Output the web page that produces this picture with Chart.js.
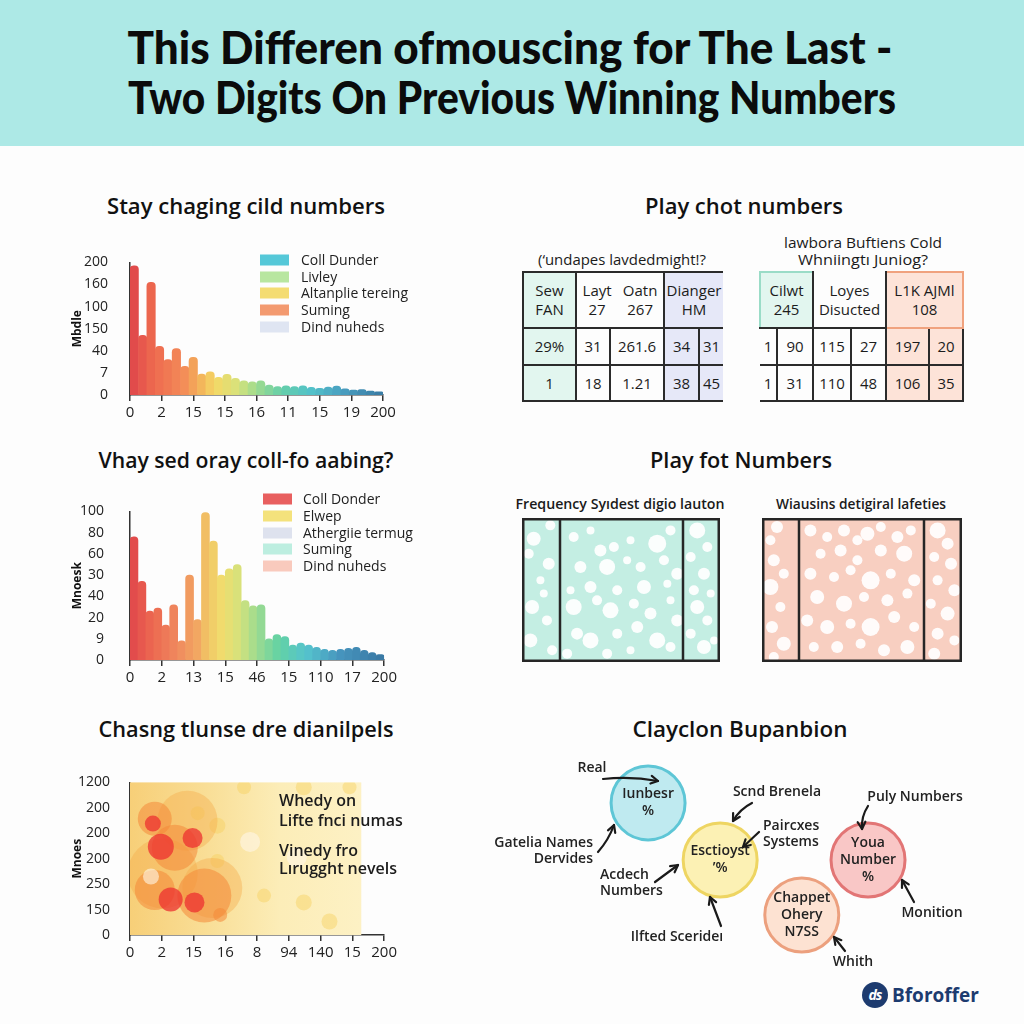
<!DOCTYPE html>
<html>
<head>
<meta charset="utf-8">
<script src="https://cdn.jsdelivr.net/npm/chart.js@4.4.1/dist/chart.umd.min.js"></script>
<style>
html, body { margin: 0; padding: 0; background: #fdfdfd; }
#page { position: relative; width: 1024px; height: 1024px; overflow: hidden; font-family: 'Open Sans', sans-serif; color: #1a1a1a; }
.band { position: absolute; left: 0; top: 0; width: 1024px; height: 146px; background: #ade9e6; }
.fit { position: absolute; white-space: nowrap; line-height: 1; }
.head { font-family: Lato, sans-serif; font-weight: 900; font-size: 46px; color: #0b0b0b; }
.ptitle { font-weight: 600; font-size: 22px; color: #111; }
.sub { font-weight: 600; font-size: 15px; color: #1a1a1a; }
canvas { position: absolute; }
.lg { position: absolute; font-size: 14px; line-height: 1; color: #222; white-space: nowrap; transform: translateY(-50%); }
.sw { position: absolute; width: 29px; height: 11px; transform: translateY(-50%); }
.note { position: absolute; font-size: 16px; font-weight: 600; color: #1c1c1c; white-space: nowrap; line-height: 1; transform: translateY(-50%); }
table.grid { position: absolute; border-collapse: collapse; table-layout: fixed; font-size: 15px; color: #1c1c1c; }
table.grid td { border: 2px solid #2b2b2b; text-align: center; padding: 0; line-height: 1.25; white-space: nowrap; overflow: hidden; }
table.grid tr.hd td { height: 54px; }
table.grid tr.r1 td { height: 35px; }
table.grid tr.r2 td { height: 34px; }
.mint { background: #e2f6ef; }
.lav { background: #e6e8f8; }
.peach { background: #fde3d8; }
.pair { display: flex; justify-content: space-around; }
.logo { position: absolute; left: 862px; top: 982px; width: 26px; height: 26px; border-radius: 50%; background: #1d3b6f; color: #fff; font: italic 700 14px 'Open Sans', sans-serif; text-align: center; line-height: 26px; letter-spacing: -1px; }
.brand { position: absolute; left: 892px; top: 995px; transform: translateY(-50%); font: 700 19px 'Open Sans', sans-serif; color: #1d3b6f; }
</style>
</head>
<body>
<div id="page">
  <div class="band"></div>
  <div class="fit head" data-cx="510" data-cy="47" data-w="765">This Differen ofmouscing for The Last -</div>
  <div class="fit head" data-cx="512" data-cy="97" data-w="768">Two Digits On Previous Winning Numbers</div>

  <div class="fit ptitle" data-cx="246" data-cy="205" data-w="278">Stay chaging cild numbers</div>
  <div class="fit ptitle" data-cx="246" data-cy="459" data-w="295">Vhay sed oray coll-fo aabing?</div>
  <div class="fit ptitle" data-cx="246" data-cy="728" data-w="295">Chasng tlunse dre dianilpels</div>
  <div class="fit ptitle" data-cx="744" data-cy="205" data-w="198">Play chot numbers</div>
  <div class="fit ptitle" data-cx="741" data-cy="459" data-w="182">Play fot Numbers</div>
  <div class="fit ptitle" data-cx="740" data-cy="728" data-w="215">Clayclon Bupanbion</div>

  <div class="fit sub" data-cx="620" data-cy="503" data-w="209">Frequency Syıdest digio lauton</div>
  <div class="fit sub" data-cx="861" data-cy="503" data-w="170">Wiausins detigiral lafeties</div>
  <div class="fit sub" style="font-weight:400" data-cx="622" data-cy="259" data-w="168">(‘undapes lavdedmight!?</div>
  <div class="fit sub" style="font-weight:400" data-cx="863" data-cy="242" data-w="158">lawbora Buftiens Cold</div>
  <div class="fit sub" style="font-weight:400" data-cx="863" data-cy="259" data-w="130">Whniingtı Juniog?</div>

  <canvas id="c1" width="330" height="185" style="left:70px;top:240px"></canvas>
  <canvas id="c2" width="330" height="205" style="left:70px;top:485px"></canvas>
  <canvas id="c3" width="330" height="205" style="left:70px;top:762px"></canvas>
  <canvas id="c5a" width="198" height="144" style="left:522px;top:518px"></canvas>
  <canvas id="c5b" width="200" height="144" style="left:762px;top:518px"></canvas>
  <canvas id="c6" width="530" height="230" style="left:470px;top:750px"></canvas>

  <div id="legend1"></div>
  <div id="legend2"></div>

  <div class="note" style="left:279px;top:800px">Whedy on</div>
  <div class="note" style="left:279px;top:820px">Lifte fnci numas</div>
  <div class="note" style="left:279px;top:850px">Vinedy fro</div>
  <div class="note" style="left:279px;top:868px">Lırugght nevels</div>

  <table class="grid" id="tA" style="left:522px;top:271px;width:200px"></table>
  <table class="grid" id="tB" style="left:759px;top:271px;width:203px"></table>

  <div class="logo">ds</div>
  <div class="brand">Bforoffer</div>
</div>

<script>
// ---- data ----
const bins1 = [5.85, 2.7, 5.1, 2.2, 1.6, 2.1, 1.3, 1.7, 0.95, 1.05, 0.8, 0.94, 0.75, 0.64, 0.6,
               0.64, 0.45, 0.38, 0.42, 0.38, 0.42, 0.35, 0.3, 0.36, 0.4, 0.28, 0.22, 0.24, 0.18, 0.14];
const yTicks1 = ['0', '7', '40', '150', '100', '160', '200'];
const xTicks1 = ['0', '2', '15', '15', '16', '11', '15', '19', '200'];
const legend1Labels = ['Coll Dunder', 'Livley', 'Altanplie tereing', 'Suming', 'Dind nuheds'];

const bins2 = [5.8, 3.7, 2.3, 2.45, 1.65, 2.6, 0.9, 4.0, 1.9, 6.95, 5.6, 4.0, 4.3, 4.5, 2.8, 2.55,
               2.6, 1.0, 1.2, 1.1, 0.7, 0.8, 0.7, 0.6, 0.5, 0.45, 0.5, 0.55, 0.6, 0.45, 0.35, 0.25];
const yTicks2 = ['0', '9', '20', '40', '30', '60', '80', '100'];
const xTicks2 = ['0', '2', '13', '15', '46', '15', '110', '17', '200'];
const legend2Labels = ['Coll Donder', 'Elwep', 'Athergiie termug', 'Suming', 'Dind nuheds'];

const yTicks3 = ['0', '150', '250', '200', '200', '200', '1200'];
const xTicks3 = ['0', '2', '15', '16', '8', '94', '140', '15', '200'];
// [x, y, weight]
const hotSpots = [[1.28, 1.40, 12], [1.97, 3.81, 10], [0.97, 3.47, 13], [0.72, 4.38, 8], [2.03, 1.28, 10]];
const paleSpots = [[0.66, 2.30, 8], [5.25, 3.06, 10], [3.78, 3.66, 10]];
const warmSpots = [[2.34, 1.55, 27], [0.78, 1.77, 20], [0.78, 4.57, 17], [1.41, 3.43, 23], [2.84, 0.79, 7]];
const washSpots = [[1.03, 2.42, 35], [1.81, 4.49, 30], [2.59, 1.85, 30]];
const mildSpots = [[2.13, 4.79, 7], [2.75, 4.30, 8], [2.75, 2.91, 7], [3.59, 5.81, 7], [5.47, 5.81, 8],
                   [4.22, 1.55, 7], [5.47, 1.28, 8], [6.28, 0.53, 8], [6.91, 5.81, 7]];

const headA = [{ lines: ['Sew', 'FAN'], span: 1 },
               { pair: [['Layt', '27'], ['Oatn', '267']], span: 2 },
               { lines: ['Dianger', 'HM'], span: 2 }];
const rowsA = [['29%', '31', '261.6', '34', '31'],
               ['1', '18', '1.21', '38', '45']];
const headB = [{ lines: ['Cilwt', '245'], span: 2 },
               { lines: ['Loyes', 'Disucted'], span: 2 },
               { lines: ['L1K AJMl', '108'], span: 2 }];
const rowsB = [['1', '90', '115', '27', '197', '20'],
               ['1', '31', '110', '48', '106', '35']];

// [x, y, r] in box units 0-100
const dotsLeft = [[5.9, 85.6, 7], [3.4, 75.2, 5], [14.3, 94.9, 5], [13.5, 68.3, 6], [9.3, 56.7, 4], [5.1, 38.2, 7],
  [11.0, 47.5, 4], [12.6, 28.9, 5], [4.2, 15.0, 7], [15.2, 8.1, 5], [26.1, 86.8, 5], [34.6, 91.4, 4], [39.6, 77.5, 6],
  [46.4, 79.9, 5], [54.8, 84.5, 4], [68.3, 82.2, 9], [75.0, 91.4, 5], [29.5, 66.0, 6], [43.0, 66.0, 8], [53.1, 70.6, 4],
  [59.9, 66.0, 5], [71.7, 70.6, 5], [78.4, 61.3, 6], [24.5, 49.8, 4], [34.6, 52.1, 6], [48.1, 49.8, 5], [61.6, 52.1, 7],
  [73.4, 54.4, 4], [26.1, 38.2, 8], [37.9, 42.8, 5], [44.7, 35.9, 8], [56.5, 40.5, 5], [64.9, 33.6, 6], [75.0, 42.8, 4],
  [78.4, 28.9, 6], [27.8, 19.7, 6], [34.6, 15.0, 8], [48.1, 19.7, 5], [58.2, 24.3, 6], [68.3, 15.0, 8], [75.0, 10.4, 5],
  [22.8, 5.8, 5], [43.0, 5.8, 5], [54.8, 8.1, 4], [88.5, 91.4, 8], [93.6, 79.9, 5], [85.2, 72.9, 5], [91.9, 61.3, 6],
  [86.8, 49.8, 5], [95.3, 47.5, 4], [88.5, 38.2, 7], [93.6, 28.9, 5], [85.2, 19.7, 5], [91.9, 10.4, 7], [97.0, 15.0, 4]];
const dotsRight = [[7.5, 93.8, 6], [4.2, 84.5, 5], [5.9, 70.6, 6], [10.9, 61.3, 5], [4.2, 52.1, 8], [9.2, 38.2, 5],
  [5.0, 24.3, 6], [10.9, 12.7, 7], [5.9, 3.5, 5], [24.2, 91.4, 6], [32.6, 86.8, 5], [41.0, 91.4, 6], [47.7, 84.5, 5],
  [52.7, 89.1, 7], [59.4, 93.8, 5], [67.7, 86.8, 6], [74.4, 91.4, 5], [29.3, 75.2, 5], [39.3, 77.5, 6], [47.7, 70.6, 5],
  [59.4, 77.5, 6], [71.1, 75.2, 8], [24.2, 61.3, 6], [36.0, 59.0, 5], [44.3, 63.7, 5], [54.3, 56.7, 9], [64.4, 61.3, 5],
  [76.1, 56.7, 6], [27.6, 45.1, 7], [41.0, 40.5, 8], [51.0, 45.1, 5], [62.7, 42.8, 6], [72.7, 47.5, 5], [22.6, 28.9, 6],
  [32.6, 24.3, 7], [44.3, 26.6, 5], [54.3, 24.3, 9], [66.1, 31.3, 6], [76.1, 24.3, 5], [25.9, 10.4, 5], [37.6, 10.4, 6],
  [49.3, 12.7, 5], [61.0, 8.1, 6], [72.7, 10.4, 7], [87.8, 91.4, 8], [92.8, 82.2, 6], [86.1, 72.9, 5], [94.5, 68.3, 6],
  [87.8, 56.7, 5], [96.2, 49.8, 6], [84.4, 40.5, 5], [92.8, 33.6, 7], [87.8, 19.7, 6], [96.2, 15.0, 5], [86.1, 5.8, 6]];

const bubbleNames = [['Iunbesr', '%'], ['Esctioyst', '\u2019%'], ['Youa', 'Number', '%'], ['Chappet', 'Ohery', 'N7SS']];
const bubbleX = [33.6, 47.2, 75.1, 62.6];
const bubbleY = [77.0, 52.2, 52.2, 28.3];

// ---- styles / layout ----
Chart.defaults.font.family = "'Open Sans', sans-serif";
Chart.defaults.color = '#222';
Chart.defaults.animation = false;

const stops1 = [[0, '#e14b4b'], [0.08, '#ee6a4f'], [0.2, '#f38a58'], [0.27, '#f3b25a'], [0.33, '#f4d866'],
  [0.42, '#d9e27a'], [0.5, '#9fdb8f'], [0.6, '#67cfa8'], [0.72, '#52c2c9'], [0.85, '#4a9fc0'], [1, '#3b7ea6']];
const stops2 = [[0, '#e24c4c'], [0.07, '#ec6650'], [0.18, '#f08a5e'], [0.26, '#f2a862'], [0.3, '#f1c565'],
  [0.36, '#f1dd6e'], [0.43, '#d5e27c'], [0.5, '#9ddb90'], [0.59, '#63d2a4'], [0.7, '#55c3cd'], [0.84, '#4694bd'], [1, '#3a7aa5']];
const legend1Colors = ['#55c8d8', '#b8e6a0', '#f4dc72', '#f39a70', '#dfe5f2'];
const legend2Colors = ['#e85f5f', '#f4e27c', '#dee2ee', '#bdeee0', '#f9cabd'];

function hex(c) { return [1, 3, 5].map(i => parseInt(c.slice(i, i + 2), 16)); }
function blend(stops, t) {
  for (let i = 1; i < stops.length; i++) {
    if (t <= stops[i][0]) {
      const [t0, c0] = stops[i - 1], [t1, c1] = stops[i];
      const f = (t - t0) / (t1 - t0), a = hex(c0), b = hex(c1);
      return 'rgb(' + a.map((v, k) => Math.round(v + (b[k] - v) * f)).join(',') + ')';
    }
  }
  return stops[stops.length - 1][1];
}

// fit the titles to their width in the picture
document.querySelectorAll('.fit').forEach(el => {
  const w = el.getBoundingClientRect().width;
  const k = (+el.dataset.w) / w;
  el.style.left = el.dataset.cx + 'px';
  el.style.top = el.dataset.cy + 'px';
  el.style.transform = `translate(-50%,-50%) scaleX(${k})`;
});

function buildLegend(id, labels, colors, swX, textX, ys) {
  const box = document.getElementById(id);
  labels.forEach((l, i) => {
    box.insertAdjacentHTML('beforeend',
      `<div class="sw" style="left:${swX}px;top:${ys[i]}px;background:${colors[i]}"></div>` +
      `<div class="lg" style="left:${textX}px;top:${ys[i]}px">${l}</div>`);
  });
}
buildLegend('legend1', legend1Labels, legend1Colors, 260, 301, [260, 277, 293, 310, 327]);
buildLegend('legend2', legend2Labels, legend2Colors, 263, 303, [499, 516, 533, 549, 566]);

const axisColor = '#333';

function histogram(id, values, stops, yLabels, xLabels, yTitle, padRight, yPad) {
  const colors = values.map((v, i) => blend(stops, i / (values.length - 1)));
  return new Chart(document.getElementById(id), {
    type: 'bar',
    data: {
      labels: values.map((v, i) => i + 1),
      datasets: [{
        data: values,
        backgroundColor: colors,
        borderRadius: { topLeft: 4, topRight: 4 },
        borderSkipped: 'bottom',
        categoryPercentage: 1,
        barPercentage: 1
      }]
    },
    options: {
      responsive: false,
      layout: { padding: { top: 14, right: padRight, left: 0, bottom: 0 } },
      plugins: { legend: { display: false }, tooltip: { enabled: false } },
      scales: {
        x: { display: false },
        xl: {
          type: 'linear', position: 'bottom', min: 0, max: xLabels.length - 1, offset: false,
          ticks: { stepSize: 1, autoSkip: false, maxRotation: 0, padding: 3, font: { size: 15 }, callback: v => xLabels[v] },
          grid: { offset: false, drawOnChartArea: false, tickLength: 6, color: axisColor, lineWidth: 1.5 },
          border: { color: axisColor, width: 1.5 },
          afterFit: s => { s.height = 30; }
        },
        y: {
          min: 0, max: yLabels.length - 1,
          ticks: { stepSize: 1, padding: yPad, font: { size: 14 }, callback: v => yLabels[v] },
          grid: { display: false },
          border: { color: axisColor, width: 1.5 },
          title: { display: true, text: yTitle, font: { size: 12, weight: 'bold' }, color: '#111', padding: 0 },
          afterFit: s => { s.width = 60; }
        }
      }
    }
  });
}

histogram('c1', bins1, stops1, yTicks1, xTicks1, 'Mbdle', 17, 14);
histogram('c2', bins2, stops2, yTicks2, xTicks2, 'Mnoesk', 13, 18);

// heat panel
const heatEdge = 7.28;
const heatBg = {
  id: 'heatBg',
  beforeDatasetsDraw(chart) {
    const { ctx, chartArea: a, scales: { x } } = chart;
    const right = x.getPixelForValue(heatEdge);
    const g = ctx.createLinearGradient(a.left, 0, right, 0);
    g.addColorStop(0, '#f7cf78');
    g.addColorStop(0.35, '#f9df98');
    g.addColorStop(0.65, '#fcedb8');
    g.addColorStop(1, '#fdf1c4');
    ctx.save();
    ctx.fillStyle = g;
    ctx.fillRect(a.left, a.top, right - a.left, a.bottom - a.top);
    ctx.restore();
  }
};
const spot = arr => arr.map(p => ({ x: p[0], y: p[1], r: p[2] }));
new Chart(document.getElementById('c3'), {
  type: 'bubble',
  data: {
    datasets: [
      { data: spot(hotSpots), backgroundColor: 'rgba(236,48,48,0.75)', borderWidth: 0 },
      { data: spot(paleSpots), backgroundColor: 'rgba(255,246,232,0.6)', borderWidth: 0 },
      { data: spot(warmSpots), backgroundColor: 'rgba(244,136,56,0.55)', borderWidth: 0 },
      { data: spot(washSpots), backgroundColor: 'rgba(246,170,72,0.4)', borderWidth: 0 },
      { data: spot(mildSpots), backgroundColor: 'rgba(247,208,95,0.45)', borderWidth: 0 }
    ]
  },
  options: {
    responsive: false,
    clip: 0,
    layout: { autoPadding: false, padding: { top: 14, right: 12, left: 0, bottom: 0 } },
    plugins: { legend: { display: false }, tooltip: { enabled: false } },
    scales: {
      x: {
        type: 'linear', min: 0, max: xTicks3.length - 1,
        ticks: { stepSize: 1, autoSkip: false, maxRotation: 0, padding: 3, font: { size: 15 }, callback: v => xTicks3[v] },
        grid: { drawOnChartArea: false, tickLength: 6, color: axisColor, lineWidth: 1.5 },
        border: { color: axisColor, width: 1.5 },
        afterFit: s => { s.height = 32; }
      },
      y: {
        min: 0, max: yTicks3.length - 1,
        ticks: { stepSize: 1, padding: 12, font: { size: 14 }, callback: v => yTicks3[v] },
        grid: { display: false },
        border: { color: axisColor, width: 1.5 },
        title: { display: true, text: 'Mnoes', font: { size: 12, weight: 'bold' }, color: '#111', padding: 0 },
        afterFit: s => { s.width = 60; }
      }
    }
  },
  plugins: [heatBg]
});

// tables
function buildTable(id, widths, head, headCls, rows, cellCls) {
  let h = '<colgroup>' + widths.map(w => `<col style="width:${w}px">`).join('') + '</colgroup>';
  h += '<tr class="hd">' + head.map((c, i) => {
    const inner = c.pair
      ? '<div class="pair">' + c.pair.map(p => `<span>${p.join('<br>')}</span>`).join('') + '</div>'
      : c.lines.join('<br>');
    return `<td colspan="${c.span}" class="${headCls[i]}">${inner}</td>`;
  }).join('') + '</tr>';
  rows.forEach((r, k) => {
    h += `<tr class="r${k + 1}">` + r.map((v, i) => `<td class="${cellCls[i]}">${v}</td>`).join('') + '</tr>';
  });
  document.getElementById(id).innerHTML = h;
}
buildTable('tA', [53, 34, 54, 35, 24], headA, ['mint', '', 'lav'], rowsA, ['mint', '', '', 'lav', 'lav']);
buildTable('tB', [17, 36, 38, 35, 43, 34], headB, ['mint', '', 'peach'], rowsB, ['', '', '', '', 'peach', 'peach']);
// open edges of the two tables
document.querySelectorAll('#tA tr').forEach(tr => { tr.lastElementChild.style.borderRight = 'none'; });
document.querySelectorAll('#tB tr').forEach(tr => { tr.firstElementChild.style.borderLeft = 'none'; });
const tBh = document.querySelector('#tB tr.hd').children;
tBh[0].style.borderLeft = '2px solid #9adcc7';
tBh[0].style.borderTop = '2px solid #9adcc7';
tBh[1].style.borderTop = 'none';
tBh[2].style.border = '2px solid #f0a27e';
document.querySelector('#tA tr.hd').children[2].style.borderLeft = '2px solid #9aa6e0';

// dotted boxes
const panelBox = {
  id: 'panelBox',
  beforeDatasetsDraw(chart, args, opts) {
    const { ctx, chartArea: a } = chart;
    ctx.save();
    ctx.fillStyle = opts.fill;
    ctx.fillRect(a.left, a.top, a.right - a.left, a.bottom - a.top);
    ctx.restore();
  },
  afterDatasetsDraw(chart, args, opts) {
    const { ctx, chartArea: a, scales: { x } } = chart;
    ctx.save();
    ctx.strokeStyle = '#262626';
    ctx.lineWidth = 2.5;
    ctx.strokeRect(a.left + 1.25, a.top + 1.25, a.right - a.left - 2.5, a.bottom - a.top - 2.5);
    opts.dividers.forEach(d => {
      const px = Math.round(x.getPixelForValue(d));
      ctx.beginPath();
      ctx.moveTo(px, a.top);
      ctx.lineTo(px, a.bottom);
      ctx.stroke();
    });
    ctx.restore();
  }
};
function dotBox(id, dots, fill, dividers) {
  new Chart(document.getElementById(id), {
    type: 'bubble',
    data: { datasets: [{ data: spot(dots), backgroundColor: 'rgba(255,255,255,0.92)', borderWidth: 0 }] },
    options: {
      responsive: false,
      clip: 0,
      layout: { autoPadding: false, padding: 0 },
      plugins: { legend: { display: false }, tooltip: { enabled: false }, panelBox: { fill, dividers } },
      scales: { x: { display: false, min: 0, max: 100 }, y: { display: false, min: 0, max: 100 } }
    },
    plugins: [panelBox]
  });
}
dotBox('c5a', dotsLeft, '#c4eee3', [19.1, 81.5]);
dotBox('c5b', dotsRight, '#f8cfc1', [18.4, 81.1]);

// concept bubbles with callouts
const bubbleFill = ['#bfeaf0', '#fcf1b4', '#f9c7c6', '#fde2d2'];
const bubbleEdge = ['#5ec6d6', '#eed562', '#e27575', '#eca07e'];
const callouts = [
  { lines: ['Real'], x: 592, y: 768, align: 'center', from: [603, 779], to: [658, 781], bend: -4 },
  { lines: ['Gatelia Names', 'Dervides'], x: 593, y: 843, align: 'right', from: [598, 852], to: [614, 825], bend: 3 },
  { lines: ['Scnd Brenela'], x: 777, y: 792, align: 'center', from: [752, 803], to: [733, 821], bend: 4 },
  { lines: ['Paircxes', 'Systems'], x: 763, y: 826, align: 'left', from: [759, 832], to: [743, 847], bend: 0 },
  { lines: ['Acdech', 'Numbers'], x: 600, y: 875, align: 'left', from: [655, 882], to: [678, 865], bend: 0 },
  { lines: ['Ilfted Scerideı'], x: 677, y: 937, align: 'center', from: [721, 926], to: [710, 897], bend: 0 },
  { lines: ['Puly Numbers'], x: 915, y: 797, align: 'center', from: [868, 806], to: [862, 829], bend: 4 },
  { lines: ['Monition'], x: 932, y: 913, align: 'center', from: [914, 902], to: [902, 880], bend: 0 },
  { lines: ['Whith'], x: 853, y: 962, align: 'center', from: [845, 951], to: [834, 937], bend: 0 }
];
const ox = 470, oy = 750;
function arrow(ctx, f, t, bend) {
  const x1 = f[0] - ox, y1 = f[1] - oy, x2 = t[0] - ox, y2 = t[1] - oy;
  const mx = (x1 + x2) / 2, my = (y1 + y2) / 2;
  const len = Math.hypot(x2 - x1, y2 - y1);
  const nx = -(y2 - y1) / len, ny = (x2 - x1) / len;
  const cx = mx + nx * bend, cy = my + ny * bend;
  ctx.beginPath();
  ctx.moveTo(x1, y1);
  ctx.quadraticCurveTo(cx, cy, x2, y2);
  ctx.stroke();
  const ang = Math.atan2(y2 - cy, x2 - cx);
  ctx.beginPath();
  ctx.moveTo(x2 - 8 * Math.cos(ang - 0.5), y2 - 8 * Math.sin(ang - 0.5));
  ctx.lineTo(x2, y2);
  ctx.lineTo(x2 - 8 * Math.cos(ang + 0.5), y2 - 8 * Math.sin(ang + 0.5));
  ctx.stroke();
}
const conceptLabels = {
  id: 'conceptLabels',
  afterDatasetsDraw(chart) {
    const { ctx } = chart;
    const meta = chart.getDatasetMeta(0);
    ctx.save();
    ctx.fillStyle = '#222';
    ctx.font = "600 14px 'Open Sans', sans-serif";
    ctx.textAlign = 'center';
    ctx.textBaseline = 'middle';
    meta.data.forEach((pt, i) => {
      const lines = bubbleNames[i];
      const top = pt.y - (lines.length - 1) * 17 / 2;
      lines.forEach((l, k) => ctx.fillText(l, pt.x, top + k * 17));
    });
    ctx.strokeStyle = '#1a1a1a';
    ctx.lineWidth = 2.2;
    ctx.lineCap = 'round';
    ctx.lineJoin = 'round';
    callouts.forEach(c => {
      ctx.textAlign = c.align;
      c.lines.forEach((l, k) => ctx.fillText(l, c.x - ox, c.y - oy + k * 16));
      arrow(ctx, c.from, c.to, c.bend);
    });
    ctx.restore();
  }
};
new Chart(document.getElementById('c6'), {
  type: 'bubble',
  data: {
    datasets: [{
      data: bubbleX.map((x, i) => ({ x, y: bubbleY[i] })),
      radius: 37,
      backgroundColor: bubbleFill,
      borderColor: bubbleEdge,
      borderWidth: 3
    }]
  },
  options: {
    responsive: false,
    clip: false,
    layout: { autoPadding: false, padding: 0 },
    plugins: { legend: { display: false }, tooltip: { enabled: false } },
    scales: { x: { display: false, min: 0, max: 100 }, y: { display: false, min: 0, max: 100 } }
  },
  plugins: [conceptLabels]
});
</script>
</body>
</html>
